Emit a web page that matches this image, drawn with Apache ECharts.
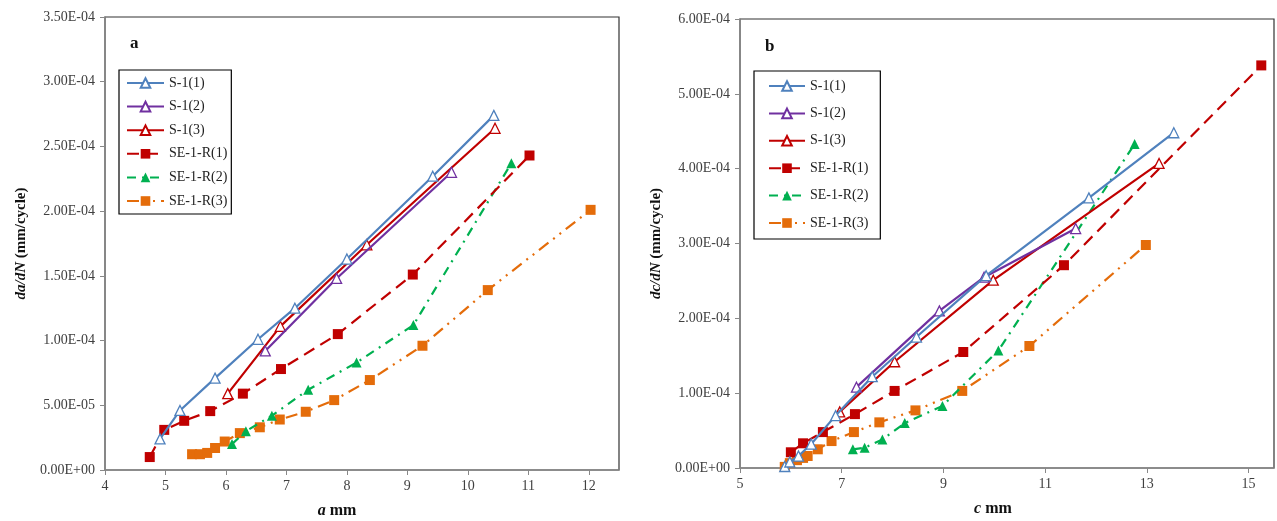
<!DOCTYPE html>
<html>
<head>
<meta charset="utf-8">
<script src="https://cdn.jsdelivr.net/npm/echarts@6/dist/echarts.min.js"></script>
<style>html,body{margin:0;padding:0;background:#fff;}#c{width:1277px;height:521px;}</style>
</head>
<body>
<div id="c"></div>
<script>
// ---------- Data (x in mm, y in mm/cycle) ----------
const seriesNames = ['S-1(1)', 'S-1(2)', 'S-1(3)', 'SE-1-R(1)', 'SE-1-R(2)', 'SE-1-R(3)'];

// Chart a : da/dN vs a
const a_S1_1 = [[4.91,2.4e-5],[5.24,4.6e-5],[5.82,7.1e-5],[6.53,1.01e-4],[7.14,1.25e-4],[8.0,1.63e-4],[9.42,2.27e-4],[10.43,2.74e-4]];
const a_S1_2 = [[6.65,9.2e-5],[7.83,1.48e-4],[9.73,2.3e-4]];
const a_S1_3 = [[6.03,5.9e-5],[6.9,1.11e-4],[8.33,1.74e-4],[10.45,2.64e-4]];
const a_SE1R_1 = [[4.74,1.0e-5],[4.98,3.1e-5],[5.31,3.8e-5],[5.74,4.55e-5],[6.28,5.9e-5],[6.91,7.8e-5],[7.85,1.05e-4],[9.09,1.51e-4],[11.02,2.43e-4]];
const a_SE1R_2 = [[6.1,2.0e-5],[6.33,3.0e-5],[6.76,4.2e-5],[7.36,6.2e-5],[8.16,8.3e-5],[9.1,1.12e-4],[10.72,2.37e-4]];
const a_SE1R_3 = [[5.44,1.22e-5],[5.57,1.22e-5],[5.69,1.32e-5],[5.82,1.7e-5],[5.98,2.2e-5],[6.23,2.85e-5],[6.56,3.3e-5],[6.89,3.9e-5],[7.32,4.5e-5],[7.79,5.4e-5],[8.38,6.95e-5],[9.25,9.6e-5],[10.33,1.39e-4],[12.03,2.01e-4]];

// Chart b : dc/dN vs c
const b_S1_1 = [[5.88,2e-6],[5.98,8e-6],[6.15,1.6e-5],[6.4,3.2e-5],[6.88,7.0e-5],[7.6,1.22e-4],[8.47,1.75e-4],[9.84,2.57e-4],[11.86,3.61e-4],[13.53,4.48e-4]];
const b_S1_2 = [[7.29,1.08e-4],[8.92,2.1e-4],[9.8,2.55e-4],[11.6,3.2e-4]];
const b_S1_3 = [[6.96,7.5e-5],[8.04,1.42e-4],[9.98,2.51e-4],[13.24,4.07e-4]];
const b_SE1R_1 = [[6.0,2.1e-5],[6.24,3.3e-5],[6.63,4.8e-5],[7.26,7.2e-5],[8.04,1.03e-4],[9.39,1.55e-4],[11.37,2.71e-4],[15.25,5.38e-4]];
const b_SE1R_2 = [[7.22,2.5e-5],[7.45,2.7e-5],[7.8,3.8e-5],[8.24,6.0e-5],[8.98,8.3e-5],[10.08,1.57e-4],[12.76,4.33e-4]];
const b_SE1R_3 = [[5.88,1.5e-6],[5.98,6.5e-6],[6.12,1.05e-5],[6.24,1.35e-5],[6.33,1.6e-5],[6.53,2.5e-5],[6.8,3.6e-5],[7.24,4.8e-5],[7.74,6.1e-5],[8.45,7.7e-5],[9.37,1.03e-4],[10.69,1.63e-4],[12.98,2.98e-4]];

// Axis settings
const aXRange = [4, 12.5, 1];
const aYRange = [0, 3.5e-4, 0.5e-4];
const bXRange = [5, 15.5, 2];
const bYRange = [0, 6e-4, 1e-4];

// ---------- Styles ----------
const FONT = '"Liberation Serif", "DejaVu Serif", serif';
const styles = [
  {color:'#4F81BD', symbol:'triangle', hollow:true, dash:'solid'},
  {color:'#7030A0', symbol:'triangle', hollow:true, dash:'solid'},
  {color:'#C00000', symbol:'triangle', hollow:true, dash:'solid'},
  {color:'#C00000', symbol:'rect', hollow:false, dash:[12,7]},
  {color:'#00B050', symbol:'triangle', hollow:false, dash:[9,6,2,6]},
  {color:'#E46C0A', symbol:'rect', hollow:false, dash:[12,6,2,6,2,6]}
];

function sci(v){
  if (Math.abs(v) < 1e-12) return '0.00E+00';
  let e = Math.floor(Math.log10(Math.abs(v)) + 1e-9);
  let m = v / Math.pow(10, e);
  if (Math.abs(m) >= 9.995) { m /= 10; e++; }
  return m.toFixed(2) + 'E' + (e < 0 ? '-' : '+') + String(Math.abs(e)).padStart(2, '0');
}

function mkSeries(data, idx, gi){
  const s = styles[idx];
  return {
    name: seriesNames[idx], type:'line', xAxisIndex: gi, yAxisIndex: gi,
    data: data, symbol: s.symbol, symbolSize: 10,
    showAllSymbol: true, smooth: false, animation: false, z: 10 - idx,
    color: s.color,
    itemStyle: s.hollow ? {color:'#fff', borderColor:s.color, borderWidth:1.3} : {color:s.color, borderWidth:0},
    lineStyle: {color:s.color, width:2.2, type:s.dash}
  };
}

const aData = [a_S1_1, a_S1_2, a_S1_3, a_SE1R_1, a_SE1R_2, a_SE1R_3];
const bData = [b_S1_1, b_S1_2, b_S1_3, b_SE1R_1, b_SE1R_2, b_SE1R_3];

function xAxisCfg(gi, r, nameTxt, padR){
  return {
    type:'value', gridIndex: gi, min:r[0], max:r[1], interval:r[2],
    name: '{i|' + nameTxt + '} mm', nameLocation:'middle', nameGap: 33,
    nameTextStyle:{fontFamily:FONT, fontSize:16, fontWeight:'bold', color:'#111', padding:[0,padR,0,0],
      rich:{i:{fontFamily:FONT, fontSize:16, fontWeight:'bold', fontStyle:'italic', color:'#111'}}},
    axisLine:{show:true, onZero:false, lineStyle:{color:'#888', width:1.5}},
    axisTick:{show:true, inside:false, length:5, lineStyle:{color:'#888'}},
    axisLabel:{fontFamily:FONT, fontSize:14, color:'#404040', margin:9, showMaxLabel:false},
    splitLine:{show:false}
  };
}
function yAxisCfg(gi, r, nameTxt){
  return {
    type:'value', gridIndex: gi, min:r[0], max:r[1], interval:r[2],
    name: '{i|' + nameTxt + '} (mm/cycle)', nameLocation:'middle', nameGap: 76, nameRotate: 90,
    nameTextStyle:{fontFamily:FONT, fontSize:15, fontWeight:'bold', color:'#111',
      rich:{i:{fontFamily:FONT, fontSize:15, fontWeight:'bold', fontStyle:'italic', color:'#111'}}},
    axisLine:{show:true, lineStyle:{color:'#888', width:1.5}},
    axisTick:{show:true, inside:false, length:5, lineStyle:{color:'#888'}},
    axisLabel:{fontFamily:FONT, fontSize:14, color:'#404040', margin:10, formatter: sci},
    splitLine:{show:false}
  };
}

const series = [];
aData.forEach((d,i)=>series.push(mkSeries(d,i,0)));
bData.forEach((d,i)=>series.push(mkSeries(d,i,1)));

const option = {
  backgroundColor:'#fff',
  animation:false,
  grid:[
    {left:105, top:17, width:514, height:453, show:true, borderColor:'#333', borderWidth:1.2, backgroundColor:'transparent', containLabel:false, outerBoundsMode:'none'},
    {left:740, top:19, width:534, height:449, show:true, borderColor:'#333', borderWidth:1.2, backgroundColor:'transparent', containLabel:false, outerBoundsMode:'none'}
  ],
  xAxis:[ xAxisCfg(0, aXRange, 'a', 50), xAxisCfg(1, bXRange, 'c', 28) ],
  yAxis:[ yAxisCfg(0, aYRange, 'da/dN'), yAxisCfg(1, bYRange, 'dc/dN') ],
  legend:[
    {data: seriesNames, orient:'vertical', left:119, top:70, itemWidth:37, itemHeight:12, itemGap:9.6,
     padding:[6,4,6,7], borderColor:'#000', borderWidth:1.2, backgroundColor:'#fff', selectedMode:false,
     textStyle:{fontFamily:FONT, fontSize:14, color:'#222'}},
    {data: seriesNames, orient:'vertical', left:754, top:71, itemWidth:36, itemHeight:12, itemGap:13.4,
     padding:[8,12,9,14], borderColor:'#000', borderWidth:1.2, backgroundColor:'#fff', selectedMode:false,
     textStyle:{fontFamily:FONT, fontSize:14, color:'#222'}}
  ],
  graphic:[
    {type:'text', left:130, top:35, style:{text:'a', fontFamily:FONT, fontSize:17, fontWeight:'bold', fill:'#111'}},
    {type:'text', left:765, top:38, style:{text:'b', fontFamily:FONT, fontSize:17, fontWeight:'bold', fill:'#111'}}
  ],
  series: series
};

const chart = echarts.init(document.getElementById('c'), null, {renderer:'canvas'});
chart.setOption(option);
</script>
</body>
</html>
